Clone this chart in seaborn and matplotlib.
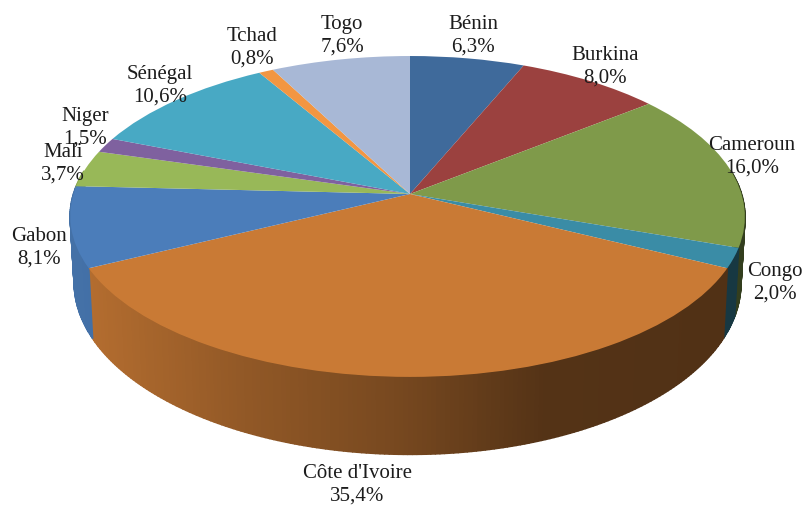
import numpy as np
import matplotlib
matplotlib.use("Agg")
import matplotlib.pyplot as plt
from matplotlib.transforms import Transform
import seaborn as sns

countries = ["Bénin", "Burkina", "Cameroun", "Congo", "Côte d'Ivoire", "Gabon",
             "Mali", "Niger", "Sénégal", "Tchad", "Togo"]
shares = [6.3, 8.0, 16.0, 2.0, 35.4, 8.1, 3.7, 1.5, 10.6, 0.8, 7.6]
share_labels = ["6,3%", "8,0%", "16,0%", "2,0%", "35,4%", "8,1%", "3,7%", "1,5%", "10,6%", "0,8%", "7,6%"]
colors = ["#3f6a9b", "#9b413f", "#7f9a4a", "#3a8ca6", "#c97a35", "#4b7dba",
          "#98b858", "#7f619f", "#48a9c4", "#f29642", "#a8b8d6"]
label_x = [473, 605, 752, 775, 357, 39, 63, 85, 160, 252, 342]
label_y = [36, 67, 157, 283, 485, 248, 164, 128, 86, 48, 36]

sns.set_theme(style="white")
plt.rcParams["font.family"] = ["Liberation Serif", "DejaVu Serif"]


def project(u, v, cy, a, b, k, cx=410.0):
    d = 1 + k * v
    return cx + b * u / d - 2.5 * u * u, cy - a * v / d


TOP = dict(cy=195.0, a=157.3, b=334.0, k=0.14)
BOTTOM = dict(cy=260.0, a=168.0, b=330.0, k=0.14)


class DiscProjection(Transform):
    input_dims = output_dims = 2
    is_separable = False
    has_inverse = False

    def transform_non_affine(self, values):
        values = np.asarray(values)
        x, y = project(values[:, 0], values[:, 1], **TOP)
        return np.column_stack([x, y])


def wall_shade(x):
    return np.interp(x, [85, 250, 400, 540, 730], [0.90, 0.72, 0.59, 0.42, 0.40])


fig, ax = plt.subplots(figsize=(8.05, 5.06), dpi=100)
fig.subplots_adjust(0, 0, 1, 1)

palette = sns.color_palette(colors)
edges = np.concatenate([[0], np.cumsum(shares)]) / np.sum(shares) * 2 * np.pi

# Side wall, drawn slice by slice from the values
for i, col in enumerate(palette):
    n = max(2, int(np.ceil((edges[i + 1] - edges[i]) / 0.012)))
    th = np.linspace(edges[i], edges[i + 1], n)
    for t0, t1 in zip(th[:-1], th[1:]):
        tm = 0.5 * (t0 + t1)
        if np.cos(tm) > 0.15:
            continue
        ts = np.array([t0, t1])
        xt, yt = project(np.sin(ts), np.cos(ts), **TOP)
        xb, yb = project(np.sin(ts), np.cos(ts), **BOTTOM)
        s = wall_shade(xb.mean())
        c = tuple(np.array(col) * s)
        ax.fill([xt[0], xt[1], xb[1], xb[0]], [yt[0], yt[1], yb[1], yb[0]],
                facecolor=c, edgecolor=c, lw=1.2, joinstyle="round", zorder=1)

# Top surface: a real pie, seen through the perspective transform
wedges, _ = ax.pie(shares, colors=palette, startangle=90, counterclock=False, radius=1,
                   wedgeprops=dict(transform=DiscProjection() + ax.transData,
                                   linewidth=0, zorder=2))

ax.set_aspect("auto")
ax.set_xlim(0, 805)
ax.set_ylim(506, 0)
ax.set_axis_off()

for name, lab, x, y in zip(countries, share_labels, label_x, label_y):
    ax.text(x, y, f"{name}\n{lab}", ha="center", va="center", fontsize=15,
            color="#1c1c1c", linespacing=1.25, zorder=5)

fig.savefig("out.png", dpi=100)
